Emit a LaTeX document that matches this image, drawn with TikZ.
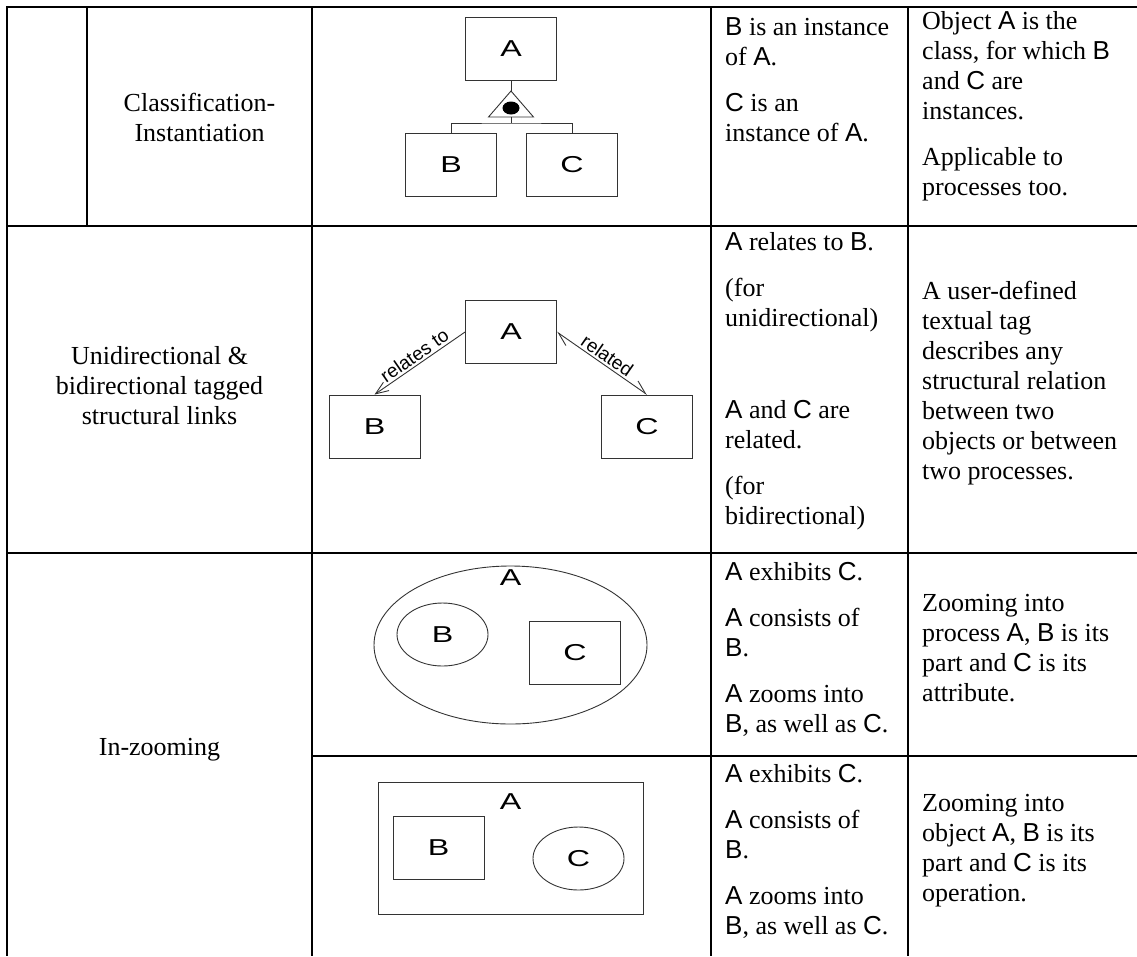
\documentclass[tikz,border=0pt]{standalone}
\usepackage{graphicx}
\usepackage{fontspec}
\setmainfont{Liberation Serif}
\setsansfont{Liberation Sans}
\usetikzlibrary{arrows.meta,shapes.geometric,positioning}
\newcommand{\ob}[1]{\textsf{#1}}
\newcommand{\wide}[1]{\scalebox{1.4}[1]{#1}}

\begin{document}
\begin{tikzpicture}[x=1pt,y=-1pt,
    grid/.style={line width=2.6pt},
    thing/.style={draw=black!80, line width=0.9pt, minimum width=91pt, minimum height=63pt,
      inner sep=0pt, font=\sffamily\fontsize{23}{26}\selectfont},
    proc/.style={thing, ellipse},
    objlbl/.style={inner sep=0pt, font=\sffamily\fontsize{23}{26}\selectfont},
    link/.style={draw=black!80, line width=0.9pt},
    tag/.style={sloped, above, inner sep=2pt, font=\sffamily\fontsize{19}{22}\selectfont},
    cell/.style={align=left, anchor=west, inner sep=0pt, font=\fontsize{26}{30}\selectfont},
    head/.style={align=center, inner sep=0pt, font=\fontsize{26}{30}\selectfont}]
  \useasboundingbox (0,0) rectangle (1137,956);

  \draw[grid] (1137,7) -| (7,956);
  \draw[grid] (87,7) -- (87,226);
  \foreach \x in {312,711,908}
    \draw[grid] (\x,7) -- (\x,956);
  \draw[grid] (7,226) -- (1137,226);
  \draw[grid] (7,553) -- (1137,553);
  \draw[grid] (312,756) -- (1137,756);

  \node[head] (classif) at (199.5,117) {Classification-\\Instantiation};
  \node[head] (tagged) at (159.5,386) {Unidirectional \&\\bidirectional tagged\\structural links};
  \node[head] (inzoom) at (159.5,750) {In-zooming};

  \node[thing] (a1) at (511,49) {\wide{A}};
  \node[thing] (b1) at (451,165) {\wide{B}};
  \node[thing] (c1) at (572,165) {\wide{C}};
  \coordinate (tri) at (511,91);
  \coordinate (base) at (511,117);
  \coordinate (fork) at (511,123);
  \draw[link] (a1.south) -- (tri);
  \draw[link] (tri) -- ++(22.5,26) -- ++(-45,0) -- cycle;
  \node[fill, ellipse, minimum width=17pt, minimum height=13pt, inner sep=0pt] (dot) at (511,108) {};
  \draw[link] (base) -- (fork);
  \draw[link] (b1.north) |- (fork) -| (c1.north);

  \node[thing] (a2) at (511,332) {\wide{A}};
  \node[thing] (b2) at (374.5,426.5) {\wide{B}};
  \node[thing] (c2) at (647,426.5) {\wide{C}};
  \draw[link, -{Straight Barb[length=13pt,width=10pt]}] (a2.west) -- node[tag] {relates to} (b2.north);
  \draw[link, {Straight Barb[harpoon,length=13pt,width=12pt]}-{Straight Barb[harpoon,length=13pt,width=12pt]}]
    (a2.east) -- node[tag] {related} (c2.north);

  \node[proc, minimum width=273pt, minimum height=158pt] (a3) at (510.5,645) {};
  \node[objlbl, below=4pt of a3.north] (a3lbl) {\wide{A}};
  \node[proc] (b3) at (442.5,634.5) {\wide{B}};
  \node[thing] (c3) at (575,653) {\wide{C}};

  \node[thing, minimum width=265pt, minimum height=132pt] (a4) at (510.5,848) {};
  \node[objlbl, below=12pt of a4.north] (a4lbl) {\wide{A}};
  \node[thing] (b4) at (438.5,848) {\wide{B}};
  \node[proc] (c4) at (578.5,858.5) {\wide{C}};

  \node[cell] (said1) at (725,80) {\ob{B} is an instance\\of \ob{A}.\\[16pt]\ob{C} is an\\instance of \ob{A}.};
  \node[cell] (note1) at (922,106) {Object \ob{A} is the\\class, for which \ob{B}\\and \ob{C} are\\instances.\\[16pt]Applicable to\\processes too.};
  \node[cell] (said2) at (725,381) {\ob{A} relates to \ob{B}.\\[16pt](for\\unidirectional)\\[16pt]\mbox{}\\[16pt]\ob{A} and \ob{C} are\\related.\\[16pt](for\\bidirectional)};
  \node[cell] (note2) at (922,383) {A user-defined\\textual tag\\describes any\\structural relation\\between two\\objects or between\\two processes.};
  \node[cell] (said3) at (725,649) {\ob{A} exhibits \ob{C}.\\[16pt]\ob{A} consists of\\\ob{B}.\\[16pt]\ob{A} zooms into\\\ob{B}, as well as \ob{C}.};
  \node[cell] (note3) at (922,648) {Zooming into\\process \ob{A}, \ob{B} is its\\part and \ob{C} is its\\attribute.};
  \node[cell] (said4) at (725,851) {\ob{A} exhibits \ob{C}.\\[16pt]\ob{A} consists of\\\ob{B}.\\[16pt]\ob{A} zooms into\\\ob{B}, as well as \ob{C}.};
  \node[cell] (note4) at (922,851) {Zooming into\\object \ob{A}, \ob{B} is its\\part and \ob{C} is its\\operation.};
\end{tikzpicture}
\end{document}
